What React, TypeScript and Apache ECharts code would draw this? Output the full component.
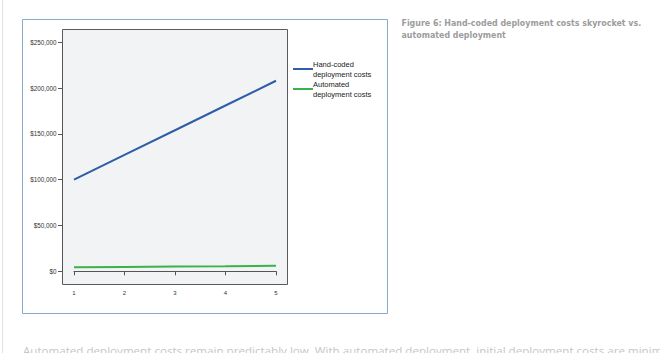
import React, { useEffect, useRef } from "react";
import * as echarts from "echarts";

const years = [1, 2, 3, 4, 5];
const seriesNames = ["Hand-coded\ndeployment costs", "Automated\ndeployment costs"];
const handCoded = [100000, 127000, 154000, 181000, 208000];
const automated = [4400, 4800, 5200, 5600, 6100];
const yTicks = [0, 50000, 100000, 150000, 200000, 250000];
const titleLines = ["Figure 6: Hand-coded deployment costs skyrocket vs.", "automated deployment"];
const bodyText =
  "Automated deployment costs remain predictably low. With automated deployment, initial deployment costs are minimal";

const colors = ["#2f5da6", "#3cb24c"];

export default function App() {
  const ref = useRef<HTMLDivElement>(null);
  useEffect(() => {
    if (!ref.current) return;
    const chart = echarts.init(ref.current, null, { renderer: "svg" });
    const fmt = (v: number) => "$" + v.toLocaleString("en-US");
    const titleStyle = {
      fill: "#9c9c9c",
      fontSize: 8.8,
      fontWeight: "bold",
      fontFamily: "DejaVu Sans, sans-serif",
      verticalAlign: "middle",
    };
    chart.setOption({
      animation: false,
      backgroundColor: "#ffffff",
      grid: { left: 74, top: 42.3, width: 202, height: 229 },
      xAxis: {
        type: "value",
        min: years[0],
        max: years[years.length - 1],
        interval: 1,
        offset: 12.7,
        axisLine: { show: true, lineStyle: { color: "#555", width: 1 } },
        axisTick: { show: true, length: 4, lineStyle: { color: "#555" } },
        axisLabel: { fontSize: 6, color: "#333", fontFamily: "Liberation Sans, Arial", margin: 6 },
        splitLine: { show: false },
      },
      yAxis: {
        type: "value",
        min: yTicks[0],
        max: yTicks[yTicks.length - 1],
        interval: 50000,
        offset: 12,
        axisLine: { show: true, lineStyle: { color: "#555", width: 1 } },
        axisTick: { show: true, length: 4, lineStyle: { color: "#555" } },
        axisLabel: {
          fontSize: 6.3,
          color: "#333",
          fontFamily: "Liberation Sans, Arial",
          margin: 5.5,
          formatter: fmt,
        },
        splitLine: { show: false },
      },
      series: [
        {
          name: seriesNames[0],
          type: "line",
          data: years.map((x, i) => [x, handCoded[i]]),
          showSymbol: false,
          lineStyle: { color: colors[0], width: 2 },
          itemStyle: { color: colors[0] },
        },
        {
          name: seriesNames[1],
          type: "line",
          data: years.map((x, i) => [x, automated[i]]),
          showSymbol: false,
          lineStyle: { color: colors[1], width: 2 },
          itemStyle: { color: colors[1] },
        },
      ],
      graphic: [
        { type: "line", z: -10, shape: { x1: 2.5, y1: 0, x2: 2.5, y2: 353 }, style: { stroke: "#e2e2e2", lineWidth: 1 } },
        { type: "rect", z: -10, shape: { x: 22.5, y: 19.5, width: 365, height: 294 }, style: { fill: "#fff", stroke: "#86aacb", lineWidth: 1 } },
        { type: "rect", z: -5, shape: { x: 62.5, y: 29.5, width: 225, height: 255 }, style: { fill: "#f1f3f5", stroke: "#5a5a5a", lineWidth: 1 } },
        { type: "line", shape: { x1: 293, y1: 69, x2: 313, y2: 69 }, style: { stroke: colors[0], lineWidth: 2 } },
        { type: "line", shape: { x1: 293, y1: 89, x2: 313, y2: 89 }, style: { stroke: colors[1], lineWidth: 2 } },
        {
          type: "text",
          x: 313,
          y: 69,
          style: { text: seriesNames[0], fill: "#222", fontSize: 7.5, lineHeight: 10, fontFamily: "Liberation Sans, Arial", verticalAlign: "middle" },
        },
        {
          type: "text",
          x: 313,
          y: 89,
          style: { text: seriesNames[1], fill: "#222", fontSize: 7.5, lineHeight: 10, fontFamily: "Liberation Sans, Arial", verticalAlign: "middle" },
        },
        { type: "text", x: 401.5, y: 22.5, scaleX: 0.9, style: { ...titleStyle, text: titleLines[0] } },
        { type: "text", x: 401.5, y: 34.5, scaleX: 0.9, style: { ...titleStyle, text: titleLines[1] } },
        {
          type: "text",
          x: 23,
          y: 344.5,
          style: { text: bodyText, fill: "#c6c6c6", fontSize: 11.6, fontFamily: "Open Sans, sans-serif", verticalAlign: "top" },
        },
      ],
    });
    return () => chart.dispose();
  }, []);
  return <div ref={ref} style={{ position: "fixed", left: 0, top: 0, width: 660, height: 353 }} />;
}
